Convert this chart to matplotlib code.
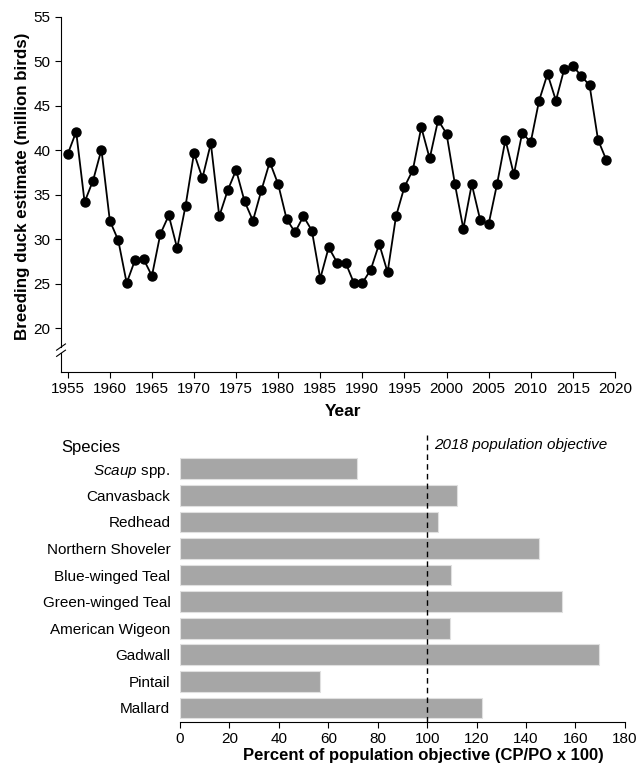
import matplotlib
matplotlib.use("Agg")
import matplotlib.pyplot as plt

# Estimativas anuais (milhões de aves)
anos = list(range(1955, 2020))
estimativas = [39.6, 42.1, 34.2, 36.6, 40.1, 32.1, 29.9, 25.1, 27.7, 27.8,
               25.9, 30.6, 32.7, 29.0, 33.8, 39.7, 36.9, 40.8, 32.6, 35.5,
               37.8, 34.3, 32.1, 35.5, 38.7, 36.2, 32.3, 30.8, 32.6, 31.0,
               25.6, 29.1, 27.4, 27.4, 25.1, 25.1, 26.6, 29.5, 26.3, 32.6,
               35.9, 37.8, 42.6, 39.1, 43.4, 41.9, 36.2, 31.2, 36.2, 32.2,
               31.7, 36.2, 41.2, 37.3, 42.0, 40.9, 45.6, 48.6, 45.6, 49.2,
               49.5, 48.4, 47.3, 41.2, 38.9]

# Espécies (de baixo para cima)
especies = ["Mallard", "Pintail", "Gadwall", "American Wigeon", "Green-winged Teal",
            "Blue-winged Teal", "Northern Shoveler", "Redhead", "Canvasback",
            r"$\it{Scaup}$ spp."]
percentuais = [122.0, 56.7, 169.7, 109.2, 154.4, 109.7, 145.3, 104.5, 112.2, 71.5]
objetivo = 100

plt.rcParams["font.family"] = ["Liberation Sans", "DejaVu Sans"]
plt.rcParams["mathtext.fontset"] = "custom"
plt.rcParams["mathtext.it"] = "Liberation Sans:italic"
plt.rcParams["mathtext.rm"] = "Liberation Sans"

fig = plt.figure(figsize=(6.41, 7.69), dpi=100)

# Gráfico de linha
ax1 = fig.add_axes([0.0952, 0.5163, 0.864, 0.4616])
ax1.plot(anos, estimativas, color="black", lw=1.3, marker="o", ms=6.5)
ax1.set_xlim(1954.2, 2020)
ax1.set_ylim(15.1, 55)
ax1.set_xticks(range(1955, 2021, 5))
ax1.set_yticks(range(20, 56, 5))
ax1.tick_params(labelsize=11, length=4, direction="out")
for s in ["top", "right"]:
    ax1.spines[s].set_visible(False)
ax1.spines["left"].set_bounds(17.9, 55)
tr = ax1.get_yaxis_transform()
ax1.plot([0, 0], [15.1, 17.2], color="black", lw=0.8, transform=tr, clip_on=False)
for yb in [17.2, 17.9]:
    ax1.plot([-0.008, 0.008], [yb - 0.35, yb + 0.35], color="black", lw=0.8,
             transform=tr, clip_on=False)
ax1.set_xlabel("Year", fontsize=12.5, fontweight="bold")
ax1.xaxis.set_label_coords(0.509, -0.089)
ax1.set_ylabel("Breeding duck estimate (million birds)", fontsize=12.2, fontweight="bold")
ax1.yaxis.set_label_coords(-0.056, 0.524)

# Gráfico de barras
ax2 = fig.add_axes([0.2808, 0.0611, 0.694, 0.3736])
pos = list(range(len(especies)))
ax2.barh(pos, percentuais, height=0.78, color="#a6a6a6", edgecolor="#e0e0e0", lw=0.8)
ax2.set_xlim(0, 180)
ax2.set_ylim(-0.53, 10.28)
ax2.axvline(objetivo, color="black", ls=(0, (4, 3)), lw=1)
ax2.text(102.8, 9.9, "2018 population objective", fontsize=11, style="italic", va="center")
ax2.text(-47.9, 9.8, "Species", fontsize=12, va="center")
ax2.set_yticks(pos)
ax2.set_yticklabels(especies, fontsize=11)
ax2.set_xticks(range(0, 181, 20))
ax2.tick_params(axis="y", length=0, pad=7)
ax2.tick_params(axis="x", labelsize=11, length=4)
for s in ["top", "right", "left"]:
    ax2.spines[s].set_visible(False)
ax2.set_xlabel("Percent of population objective (CP/PO x 100)", fontsize=12,
               fontweight="bold")
ax2.xaxis.set_label_coords(0.548, -0.092)

fig.savefig("out.png", dpi=100)
